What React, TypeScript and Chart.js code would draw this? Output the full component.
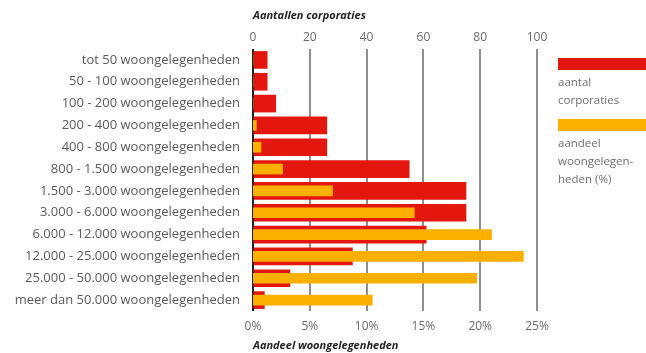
import { useEffect, useRef } from "react";
import { Chart, registerables } from "chart.js";

Chart.register(...registerables);

// Size classes of housing corporations
const categories = [
  "tot 50 woongelegenheden",
  "50 - 100 woongelegenheden",
  "100 - 200 woongelegenheden",
  "200 - 400 woongelegenheden",
  "400 - 800 woongelegenheden",
  "800 - 1.500 woongelegenheden",
  "1.500 - 3.000 woongelegenheden",
  "3.000 - 6.000 woongelegenheden",
  "6.000 - 12.000 woongelegenheden",
  "12.000 - 25.000 woongelegenheden",
  "25.000 - 50.000 woongelegenheden",
  "meer dan 50.000 woongelegenheden",
];

// Number of corporations per size class (top axis)
const aantalCorporaties = [5, 5, 8, 26, 26, 55, 75, 75, 61, 35, 13, 4];

// Share of all dwellings per size class, in % (bottom axis)
const aandeelWoongelegenheden = [0, 0, 0, 0.3, 0.7, 2.6, 7.0, 14.2, 21.0, 23.8, 19.7, 10.5];

const topTicks = [0, 20, 40, 60, 80, 100];
const bottomTicks = [0, 5, 10, 15, 20, 25];

const RED = "#e3170d";
const ORANGE = "#fbb000";
const FONT = "'Open Sans', 'Noto Sans', sans-serif";

const legendItems = [
  { color: RED, lines: ["aantal", "corporaties"] },
  { color: ORANGE, lines: ["aandeel", "woongelegen-", "heden (%)"] },
];

const sideLegend = {
  id: "sideLegend",
  afterDraw(chart: any) {
    const ctx = chart.ctx;
    const x = chart.chartArea.right + 21;
    let y = 58;
    ctx.save();
    ctx.font = `11.5px ${FONT}`;
    ctx.textBaseline = "middle";
    ctx.textAlign = "left";
    for (const item of legendItems) {
      ctx.fillStyle = item.color;
      ctx.fillRect(x, y, chart.width - x, 12);
      y += 12;
      ctx.fillStyle = "#6e6e6e";
      for (const line of item.lines) {
        y += 13;
        ctx.fillText(line, x, y);
        y += 5;
      }
      y += 13;
    }
    ctx.restore();
  },
};

export default function App() {
  const canvasRef = useRef<HTMLCanvasElement | null>(null);

  useEffect(() => {
    if (!canvasRef.current) return;
    const chart = new Chart(canvasRef.current, {
      type: "bar",
      data: {
        labels: categories,
        datasets: [
          {
            label: "aandeel woongelegenheden (%)",
            data: aandeelWoongelegenheden,
            backgroundColor: ORANGE,
            xAxisID: "xBottom",
            barThickness: 10,
            grouped: false,
            order: 1,
          },
          {
            label: "aantal corporaties",
            data: aantalCorporaties,
            backgroundColor: RED,
            xAxisID: "xTop",
            barThickness: 17,
            grouped: false,
            order: 2,
          },
        ],
      },
      options: {
        indexAxis: "y",
        animation: false,
        responsive: true,
        maintainAspectRatio: false,
        layout: { padding: { left: 0, right: 109, top: 0, bottom: 0 } },
        plugins: {
          legend: { display: false },
          tooltip: { enabled: false },
        },
        scales: {
          y: {
            grid: { display: false },
            border: { display: false },
            ticks: {
              color: "#5a5a5a",
              padding: 5,
              font: { family: FONT, size: 13 },
            },
            afterFit(scale: any) {
              scale.width = 253;
            },
          },
          xTop: {
            type: "linear",
            position: "top",
            min: 0,
            max: 100,
            afterBuildTicks(scale: any) {
              scale.ticks = topTicks.map((v) => ({ value: v }));
            },
            grid: {
              drawTicks: false,
              lineWidth: 2,
              color: (c: any) => (c.tick && c.tick.value === 0 ? "#222222" : "#8f8f8f"),
            },
            border: { display: false },
            ticks: {
              color: "#6a6a6a",
              padding: 4,
              font: { family: FONT, size: 12 },
            },
            title: {
              display: true,
              text: "Aantallen corporaties",
              align: "start",
              color: "#222222",
              padding: { top: 9, bottom: 0 },
              font: { family: FONT, size: 11, weight: "bold", style: "italic" },
            },
            afterFit(scale: any) {
              scale.height = 49;
            },
          },
          xBottom: {
            type: "linear",
            position: "bottom",
            min: 0,
            max: 25,
            afterBuildTicks(scale: any) {
              scale.ticks = bottomTicks.map((v) => ({ value: v }));
            },
            grid: { display: false, drawTicks: false },
            border: { display: false },
            ticks: {
              color: "#6a6a6a",
              padding: 8,
              font: { family: FONT, size: 12 },
              callback: (v: any) => `${v}%`,
            },
            title: {
              display: true,
              text: "Aandeel woongelegenheden",
              align: "start",
              color: "#222222",
              padding: { top: 0, bottom: 1 },
              font: { family: FONT, size: 11, weight: "bold", style: "italic" },
            },
            afterFit(scale: any) {
              scale.height = 42;
            },
          },
        },
      },
      plugins: [sideLegend],
    } as any);
    return () => chart.destroy();
  }, []);

  return (
    <div style={{ position: "absolute", left: 0, top: 0, width: 646, height: 353, background: "#ffffff" }}>
      <canvas ref={canvasRef} />
    </div>
  );
}
